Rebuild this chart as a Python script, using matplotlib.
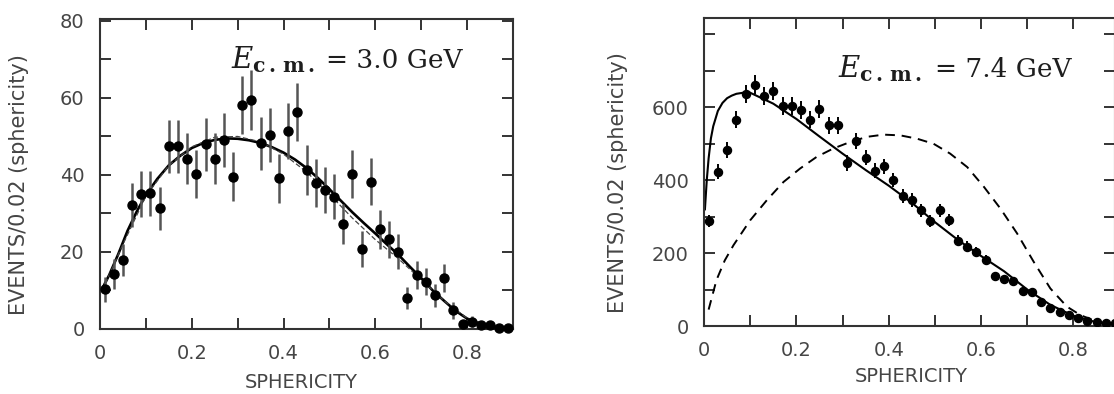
import matplotlib
matplotlib.use('Agg')
import matplotlib.pyplot as plt
from matplotlib.ticker import MultipleLocator, FixedLocator, FuncFormatter

plt.rcParams['mathtext.fontset'] = 'dejavuserif'
plt.rcParams['font.family'] = ['DejaVu Sans']

# ---------------- data: left panel (E_cm = 3.0 GeV) ----------------
x_left = [0.01, 0.03, 0.05, 0.07, 0.09, 0.11, 0.13, 0.15, 0.17, 0.19, 0.21, 0.23,
          0.25, 0.27, 0.29, 0.31, 0.33, 0.35, 0.37, 0.39, 0.41, 0.43, 0.45, 0.47,
          0.49, 0.51, 0.53, 0.55, 0.57, 0.59, 0.61, 0.63, 0.65, 0.67, 0.69, 0.71,
          0.73, 0.75, 0.77, 0.79, 0.81, 0.83, 0.85, 0.87, 0.89]
y_left = [10.3, 14.3, 17.9, 32.2, 35.1, 35.2, 31.3, 47.5, 47.4, 44.2, 40.2, 48.0,
          44.2, 49.1, 39.6, 58.2, 59.5, 48.2, 50.4, 39.1, 51.4, 56.3, 41.3, 38.0,
          36.1, 34.4, 27.3, 40.2, 20.8, 38.3, 25.9, 23.3, 20.1, 8.0, 14.0, 12.3,
          8.8, 13.2, 4.9, 1.3, 1.9, 1.0, 1.0, 0.2, 0.2]
err_left = [3.2, 3.8, 4.2, 5.7, 5.9, 5.9, 5.6, 6.9, 6.9, 6.6, 6.3, 6.9,
            6.6, 7.0, 6.3, 7.6, 7.7, 6.9, 7.1, 6.3, 7.2, 7.5, 6.4, 6.2,
            6.0, 5.9, 5.2, 6.3, 4.6, 6.2, 5.1, 4.8, 4.5, 2.8, 3.7, 3.5,
            3.0, 3.6, 2.2, 1.1, 1.4, 1.0, 1.0, 0.4, 0.4]

fit_left_x = [0.005, 0.02, 0.04, 0.06, 0.08, 0.10, 0.125, 0.15, 0.175, 0.20, 0.225,
              0.25, 0.275, 0.30, 0.325, 0.35, 0.375, 0.40, 0.425, 0.45, 0.475, 0.50,
              0.525, 0.55, 0.575, 0.60, 0.625, 0.65, 0.675, 0.70, 0.725, 0.75, 0.775,
              0.80, 0.825, 0.85, 0.875, 0.90]
fit_left_y = [10.5, 14.0, 19.5, 25.5, 30.5, 34.8, 39.0, 42.5, 45.0, 47.0, 48.3,
              49.1, 49.5, 49.4, 49.0, 48.3, 47.2, 45.8, 44.0, 41.8, 39.2, 36.3,
              33.3, 30.3, 27.5, 24.8, 22.0, 19.3, 16.2, 13.2, 10.0, 7.3, 4.7,
              2.7, 1.5, 0.8, 0.3, 0.1]
alt_left_x = [0.005, 0.05, 0.10, 0.15, 0.20, 0.25, 0.30, 0.35, 0.40, 0.45, 0.50,
              0.55, 0.60, 0.65, 0.70, 0.75, 0.80, 0.85, 0.90]
alt_left_y = [10.0, 22.0, 34.5, 42.5, 47.3, 49.8, 50.0, 48.6, 45.4, 40.8, 35.0,
              28.8, 23.2, 18.3, 12.8, 7.3, 2.8, 0.8, 0.1]

# ---------------- data: right panel (E_cm = 7.4 GeV) ----------------
x_right = x_left
y_right = [288, 423, 482, 566, 637, 662, 630, 644, 604, 604, 592, 566, 596, 551,
           551, 447, 508, 462, 426, 438, 400, 357, 345, 318, 288, 318, 290, 234,
           217, 202, 181, 137, 128, 123, 97, 92, 67, 50, 39, 30, 21, 15, 10, 7, 7]
err_right = [17, 21, 22, 24, 25, 26, 25, 25, 25, 25, 24, 24, 24, 23, 23, 21, 22,
             21, 21, 21, 20, 19, 19, 18, 17, 18, 17, 15, 15, 14, 13, 12, 11, 11,
             10, 10, 8, 7, 6, 5, 5, 4, 3, 3, 3]

fit_right_x = [0.002, 0.006, 0.01, 0.015, 0.02, 0.03, 0.04, 0.05, 0.06, 0.07, 0.085,
               0.10, 0.15, 0.20, 0.25, 0.30, 0.35, 0.40, 0.45, 0.50, 0.55, 0.60,
               0.65, 0.70, 0.75, 0.80, 0.85, 0.89]
fit_right_y = [320, 400, 460, 515, 548, 590, 612, 625, 632, 637, 640,
               640, 610, 568, 520, 473, 428, 385, 338, 285, 236, 192,
               150, 100, 58, 28, 10, 3]
dash_right_x = [0.01, 0.027, 0.045, 0.064, 0.10, 0.136, 0.172, 0.208, 0.244, 0.28,
                0.317, 0.353, 0.389, 0.425, 0.461, 0.497, 0.533, 0.57, 0.606, 0.642,
                0.678, 0.714, 0.75, 0.786, 0.815, 0.85, 0.89]
dash_right_y = [45, 126, 180, 222, 290, 345, 395, 432, 464, 487, 505, 519, 525, 523,
                514, 500, 473, 436, 382, 322, 254, 176, 103, 53, 30, 12, 4]

x_ticklabels = ['0', '0.2', '0.4', '0.6', '0.8']
ylabel_text = 'EVENTS/0.02 (sphericity)'
xlabel_text = 'SPHERICITY'
energy_sym = r'$E_{\mathbf{c\,.\,m\,.}}$'
energy_left = '= 3.0 GeV'
energy_right = '= 7.4 GeV'

# ---------------- layout ----------------
W, H = 1114, 394
fig = plt.figure(figsize=(W / 100, H / 100), dpi=100)
fig.patch.set_facecolor('white')


def rect(l, t, r, b):
    return [l / W, 1 - b / H, (r - l) / W, (b - t) / H]


def fx(px):
    return px / W


def fy(py):
    return 1 - py / H


ax1 = fig.add_axes(rect(100, 19, 513, 329))
ax2 = fig.add_axes(rect(704, 18, 1115, 326))

txt_col = '#454545'
spine_col = '#333333'


def style(ax, xmax, ymax, yminor, yticks):
    ax.set_xlim(0, xmax)
    ax.set_ylim(0, ymax)
    ax.xaxis.set_major_locator(FixedLocator([0, 0.2, 0.4, 0.6, 0.8]))
    ax.xaxis.set_major_formatter(FuncFormatter(lambda v, p: x_ticklabels[int(round(v / 0.2))]))
    ax.xaxis.set_minor_locator(MultipleLocator(0.1))
    ax.yaxis.set_major_locator(FixedLocator(yticks))
    ax.yaxis.set_minor_locator(MultipleLocator(yminor))
    ax.yaxis.set_major_formatter(FuncFormatter(lambda v, p: '%d' % v))
    for which in ('major', 'minor'):
        ax.tick_params(axis='both', which=which, direction='in', length=8, width=1.4,
                       color=spine_col, top=True, right=True)
    ax.tick_params(axis='x', which='major', pad=11, labelsize=14, labelcolor=txt_col)
    ax.tick_params(axis='y', which='major', pad=11, labelsize=14, labelcolor=txt_col)
    for s in ax.spines.values():
        s.set_linewidth(1.5)
        s.set_color(spine_col)


style(ax1, 0.9, 80.5, 10, [0, 20, 40, 60, 80])
style(ax2, 0.89, 845, 100, [0, 200, 400, 600])

# left panel
ax1.errorbar(x_left, y_left, yerr=err_left, fmt='o', color='black', ms=6.5,
             ecolor='#555555', elinewidth=1.8, capsize=0, zorder=3, clip_on=False)
ax1.plot(fit_left_x, fit_left_y, color='black', lw=1.9, zorder=2)
ax1.plot(alt_left_x, alt_left_y, color='#444444', lw=0.9, ls=(0, (4, 2)), zorder=2)

# right panel
ax2.errorbar(x_right, y_right, yerr=err_right, fmt='o', color='black', ms=5.8,
             ecolor='black', elinewidth=1.4, capsize=0, zorder=3)
ax2.plot(fit_right_x, fit_right_y, color='black', lw=1.5, zorder=2)
ax2.plot(dash_right_x, dash_right_y, color='black', lw=1.4, ls=(0, (5, 3.5)), zorder=2)

# annotations (E_c.m. = ...)
ann_col = '#1e1e1e'
fig.text(fx(231), fy(68), energy_sym, fontsize=21, ha='left', va='baseline', color=ann_col)
fig.text(fx(326), fy(68), energy_left, fontsize=19, family='DejaVu Serif',
         ha='left', va='baseline', color=ann_col)
fig.text(fx(838), fy(77), energy_sym, fontsize=21, ha='left', va='baseline', color=ann_col)
fig.text(fx(935), fy(77), energy_right, fontsize=19, family='DejaVu Serif',
         ha='left', va='baseline', color=ann_col)

# axis labels
fig.text(fx(19.5), fy(185), ylabel_text, rotation=90, ha='center', va='center',
         fontsize=15, color=txt_col)
fig.text(fx(618), fy(183), ylabel_text, rotation=90, ha='center', va='center',
         fontsize=15, color=txt_col)
fig.text(fx(301), fy(382), xlabel_text, ha='center', va='center',
         fontsize=14, color=txt_col)
fig.text(fx(911), fy(377), xlabel_text, ha='center', va='center',
         fontsize=14, color=txt_col)

fig.savefig('out.png', dpi=100, facecolor='white')
